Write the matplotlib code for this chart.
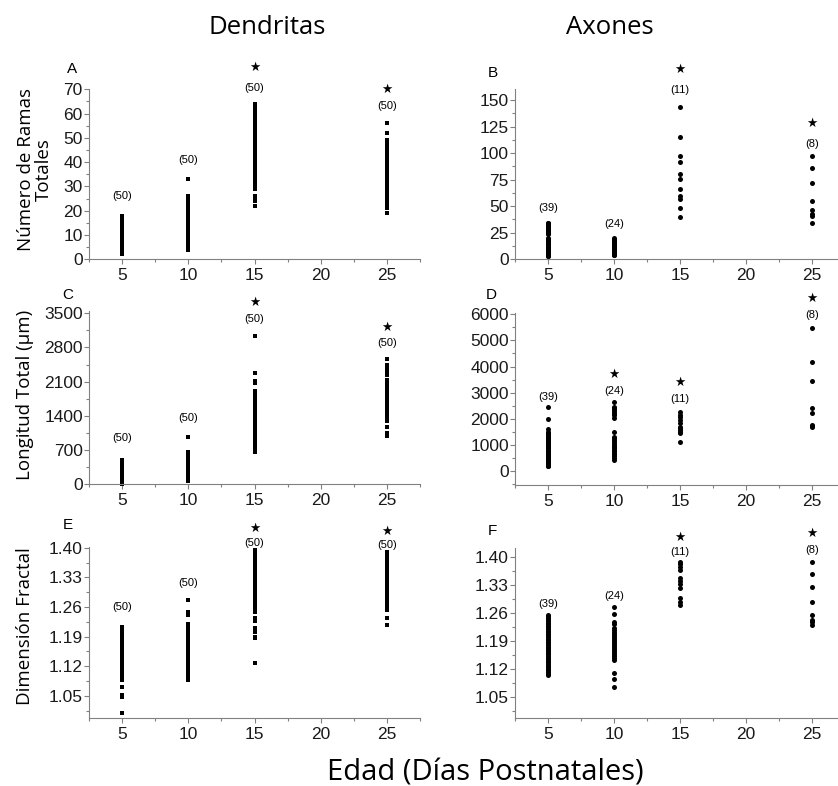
import matplotlib.pyplot as plt
from matplotlib.ticker import MultipleLocator, FormatStrFormatter

W, H = 838, 786

ages = [5, 10, 15, 25]
n_dend = [50, 50, 50, 50]
n_ax = [39, 24, 11, 8]

# A: numero de ramas totales, dendritas
ramas_dend_5 = [2, 2, 3, 3, 4, 4, 5, 5, 6, 6, 7, 7, 8, 8, 9, 9, 10, 10, 11, 11, 12, 12, 13,
                14, 14, 15, 15, 16, 16, 17, 17, 18, 18, 18]
ramas_dend_10 = [4, 4, 5, 5, 6, 7, 7, 8, 8, 9, 10, 10, 11, 11, 12, 13, 13, 14, 14, 15, 16, 16,
                 17, 17, 18, 19, 19, 20, 20, 21, 22, 22, 23, 23, 24, 25, 25, 26, 33]
ramas_dend_15 = [22, 24, 25, 26, 29, 30, 30, 31, 32, 33, 33, 34, 35, 36, 36, 37, 38, 39, 39, 40,
                 41, 42, 42, 43, 44, 45, 45, 46, 47, 48, 48, 49, 50, 51, 51, 52, 53, 54, 55, 56,
                 57, 58, 59, 60, 61, 62, 63, 64]
ramas_dend_25 = [19, 21, 22, 23, 24, 25, 26, 27, 28, 29, 30, 31, 32, 33, 34, 35, 35, 36, 37, 38,
                 39, 40, 40, 41, 42, 43, 44, 45, 46, 47, 48, 49, 52, 56]

# B: numero de ramas totales, axones
ramas_ax_5 = [3, 3, 4, 4, 5, 5, 6, 7, 7, 8, 8, 9, 10, 10, 11, 12, 13, 14, 15, 16, 17, 17, 18, 19,
              20, 24, 25, 25, 26, 27, 28, 29, 30, 30, 31, 32, 33, 34, 34]
ramas_ax_10 = [4, 4, 5, 5, 6, 6, 7, 7, 8, 9, 9, 10, 11, 11, 12, 13, 13, 14, 15, 16, 17, 18, 19, 20]
ramas_ax_15 = [40, 48, 57, 60, 66, 76, 80, 92, 97, 115, 143]
ramas_ax_25 = [34, 41, 43, 46, 55, 72, 86, 97]

# C: longitud total (um), dendritas
long_dend_5 = [15, 40, 60, 85, 100, 120, 140, 160, 180, 200, 215, 230, 250, 270, 290, 310, 330,
               350, 370, 390, 410, 430, 450, 470, 490]
long_dend_10 = [60, 90, 120, 150, 180, 210, 240, 270, 300, 330, 360, 390, 420, 450, 480, 510,
                540, 570, 600, 630, 660, 975]
long_dend_15 = [670, 700, 740, 780, 820, 860, 900, 940, 980, 1020, 1060, 1100, 1150, 1200, 1240,
                1280, 1320, 1360, 1400, 1440, 1480, 1520, 1560, 1600, 1640, 1680, 1740, 1780,
                1820, 1860, 1900, 2070, 2110, 2270, 3040]
long_dend_25 = [990, 1045, 1180, 1290, 1330, 1370, 1410, 1450, 1490, 1530, 1570, 1610, 1650,
                1690, 1730, 1770, 1810, 1850, 1890, 1930, 1970, 2010, 2050, 2090, 2130, 2240,
                2280, 2320, 2360, 2400, 2440, 2565]

# D: longitud total (um), axones
long_ax_5 = [170, 200, 230, 260, 290, 320, 350, 380, 410, 440, 470, 500, 540, 580, 620, 660, 700,
             740, 780, 820, 860, 900, 940, 980, 1020, 1060, 1100, 1140, 1180, 1220, 1260, 1300,
             1350, 1400, 1450, 1500, 1600, 1990, 2460]
long_ax_10 = [430, 500, 560, 640, 700, 760, 800, 870, 900, 950, 1020, 1100, 1190, 1250, 1310,
              1505, 2020, 2140, 2200, 2270, 2330, 2400, 2450, 2630]
long_ax_15 = [1100, 1440, 1500, 1570, 1640, 1700, 1830, 1950, 2080, 2150, 2270]
long_ax_25 = [1700, 1730, 1760, 2210, 2400, 3460, 4190, 5490]

# E: dimension fractal, dendritas
frac_dend_5 = [1.008, 1.048, 1.052, 1.070, 1.087, 1.092, 1.097, 1.102, 1.107, 1.112, 1.117,
               1.122, 1.127, 1.132, 1.137, 1.142, 1.147, 1.152, 1.157, 1.162, 1.167, 1.172,
               1.177, 1.182, 1.187, 1.195, 1.200, 1.205, 1.210, 1.213]
frac_dend_10 = [1.087, 1.094, 1.101, 1.108, 1.115, 1.122, 1.129, 1.136, 1.143, 1.150, 1.157,
                1.164, 1.171, 1.178, 1.185, 1.192, 1.199, 1.206, 1.213, 1.219, 1.241, 1.249,
                1.276]
frac_dend_15 = [1.128, 1.186, 1.190, 1.201, 1.209, 1.227, 1.233, 1.249, 1.256, 1.263, 1.270,
                1.277, 1.284, 1.291, 1.298, 1.305, 1.312, 1.319, 1.326, 1.333, 1.340, 1.347,
                1.354, 1.361, 1.368, 1.375, 1.382, 1.389, 1.394]
frac_dend_25 = [1.217, 1.233, 1.253, 1.260, 1.268, 1.275, 1.282, 1.289, 1.296, 1.303, 1.310,
                1.317, 1.324, 1.331, 1.338, 1.345, 1.352, 1.359, 1.366, 1.373, 1.380, 1.386,
                1.390]

# F: dimension fractal, axones
frac_ax_5 = [1.104, 1.108, 1.112, 1.116, 1.120, 1.124, 1.128, 1.132, 1.136, 1.140, 1.144, 1.148,
             1.152, 1.156, 1.160, 1.164, 1.168, 1.172, 1.176, 1.180, 1.184, 1.188, 1.192, 1.196,
             1.200, 1.204, 1.208, 1.212, 1.216, 1.220, 1.224, 1.228, 1.232, 1.236, 1.240, 1.244,
             1.248, 1.252, 1.255]
frac_ax_10 = [1.075, 1.094, 1.110, 1.142, 1.147, 1.152, 1.157, 1.162, 1.167, 1.172, 1.177,
              1.182, 1.187, 1.192, 1.197, 1.202, 1.207, 1.212, 1.217, 1.222, 1.232, 1.238,
              1.258, 1.276]
frac_ax_15 = [1.280, 1.289, 1.297, 1.322, 1.332, 1.340, 1.347, 1.368, 1.375, 1.382, 1.389]
frac_ax_25 = [1.230, 1.237, 1.243, 1.255, 1.287, 1.326, 1.358, 1.389]

# significance stars (ages)
sig_A = [15, 25]
sig_B = [15, 25]
sig_C = [15, 25]
sig_D = [10, 15, 25]
sig_E = [15, 25]
sig_F = [15, 25]

TICK_FONT = 'Liberation Sans'
LABEL_FONT = 'Open Sans'
GREY = '#808080'

fig = plt.figure(figsize=(W / 100, H / 100), dpi=100)


def add_panel(left, top, right, bottom):
    return fig.add_axes([left / W, 1 - bottom / H, (right - left) / W, (bottom - top) / H])


panels = [
    # letter, rect(px), ylim, major, minor, fmt, groups, marker, counts, count_y, sig, star_y, letter pos
    ('A', (89, 89.3, 420, 259.3), (0, 70), 10, 5, None,
     [ramas_dend_5, ramas_dend_10, ramas_dend_15, ramas_dend_25], 's', n_dend,
     [26.2, 40.9, 70.4, 63.1], sig_A, {15: 79.1, 25: 70.0}, (72, 69)),
    ('B', (515, 89.4, 845, 259.3), (0, 160), 25, 12.5, None,
     [ramas_ax_5, ramas_ax_10, ramas_ax_15, ramas_ax_25], 'o', n_ax,
     [48, 33, 159.4, 108.3], sig_B, {15: 178.9, 25: 128.0}, (493, 73)),
    ('C', (89, 311.3, 420, 484.3), (0, 3540), 700, 350, None,
     [long_dend_5, long_dend_10, long_dend_15, long_dend_25], 's', n_dend,
     [941, 1364, 3376, 2899], sig_C, {15: 3718, 25: 3206}, (67.5, 295)),
    ('D', (515, 313.3, 845, 485), (-540, 6040), 1000, 500, None,
     [long_ax_5, long_ax_10, long_ax_15, long_ax_25], 'o', n_ax,
     [2845, 3075, 2760, 5975], sig_D, {10: 3713, 15: 3385, 25: 6613}, (491, 295)),
    ('E', (89, 546.7, 420, 718.3), (0.9966, 1.4024), 0.07, 0.035, '%.2f',
     [frac_dend_5, frac_dend_10, frac_dend_15, frac_dend_25], 's', n_dend,
     [1.26, 1.316, 1.41, 1.406], sig_E, {15: 1.446, 25: 1.438}, (67.5, 525)),
    ('F', (515, 548.3, 845, 718.3), (0.9958, 1.4226), 0.07, 0.035, '%.2f',
     [frac_ax_5, frac_ax_10, frac_ax_15, frac_ax_25], 'o', n_ax,
     [1.284, 1.304, 1.414, 1.418], sig_F, {15: 1.449, 25: 1.459}, (492.5, 531)),
]

for (letter, rect, ylim, major, minor, fmt, groups, marker, counts,
     count_y, sig, star_y, lpos) in panels:
    ax = add_panel(*rect)
    for age, vals in zip(ages, groups):
        ax.plot([age] * len(vals), vals, linestyle='none', marker=marker,
                ms=3.4 if marker == 's' else 3.6, color='black', mec='black', mew=0,
                clip_on=False)
    ax.set_xlim(2.5, 27.5)
    ax.set_ylim(*ylim)
    ax.set_xticks([5, 10, 15, 20, 25])
    ax.xaxis.set_minor_locator(MultipleLocator(2.5))
    ax.yaxis.set_major_locator(MultipleLocator(major))
    ax.yaxis.set_minor_locator(MultipleLocator(minor))
    if fmt:
        ax.yaxis.set_major_formatter(FormatStrFormatter(fmt))
    for s in ['top', 'right']:
        ax.spines[s].set_visible(False)
    for s in ['left', 'bottom']:
        ax.spines[s].set_color(GREY)
        ax.spines[s].set_linewidth(0.8)
    ax.tick_params(which='both', direction='out', color=GREY, width=0.8)
    ax.tick_params(which='major', length=3.5)
    ax.tick_params(which='minor', length=2)
    ax.tick_params(axis='y', which='major', pad=1, labelsize=12.5, labelcolor='#1a1a1a')
    ax.tick_params(axis='x', which='major', pad=3, labelsize=12.5, labelcolor='#1a1a1a')
    for lab in ax.get_xticklabels() + ax.get_yticklabels():
        lab.set_fontfamily(TICK_FONT)

    for age, n, yv in zip(ages, counts, count_y):
        ax.text(age, yv, f'({n})', ha='center', va='center', fontsize=8,
                family=TICK_FONT, clip_on=False)
    for age in sig:
        ax.text(age, star_y[age], '\u2605', ha='center', va='center', fontsize=9,
                family='DejaVu Sans', clip_on=False)

    fig.text(lpos[0] / W, 1 - lpos[1] / H, letter, ha='center', va='center',
             fontsize=11, family=TICK_FONT)

# y labels
fig.text(35 / W, 1 - 169.5 / H, 'Número de Ramas\nTotales', rotation=90, ha='center',
         va='center', multialignment='center', fontsize=13.5, family=LABEL_FONT,
         linespacing=1.05)
fig.text(25 / W, 1 - 395 / H, 'Longitud Total (\u03bcm)', rotation=90, ha='center',
         va='center', fontsize=13.5, family=LABEL_FONT)
fig.text(25 / W, 1 - 626 / H, 'Dimensión Fractal', rotation=90, ha='center',
         va='center', fontsize=13.5, family=LABEL_FONT)

# column titles and common x label
fig.text(266.7 / W, 1 - 28 / H, 'Dendritas', ha='center', va='center', fontsize=18.5,
         family=LABEL_FONT)
fig.text(610 / W, 1 - 28 / H, 'Axones', ha='center', va='center', fontsize=18.5,
         family=LABEL_FONT)
fig.text(485 / W, 1 - 773 / H, 'Edad (Días Postnatales)', ha='center', va='center',
         fontsize=21, family=LABEL_FONT)

fig.savefig('out.png', dpi=100, facecolor='white')
